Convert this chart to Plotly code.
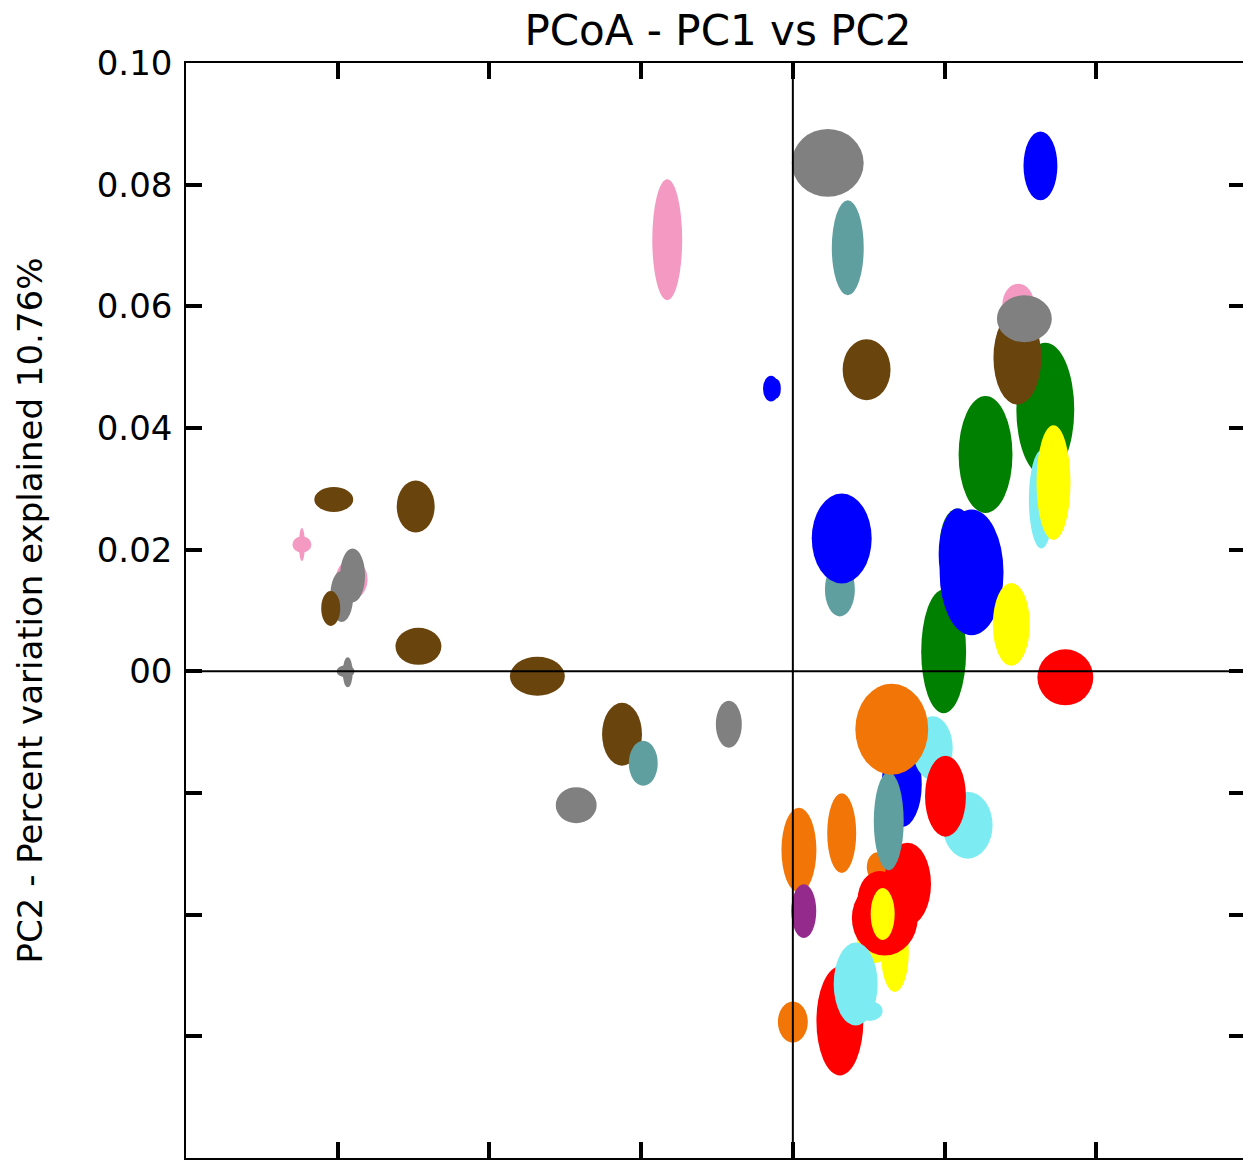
import plotly.graph_objects as go

# ---- data (PCoA ellipses: centre and half-widths in PC units) ----
groups = ["pink", "pink", "brown", "brown", "pink", "gray", "gray", "brown", "brown", "gray",
          "gray", "brown", "brown", "teal", "gray", "gray", "pink", "blue", "blue", "brown",
          "teal", "blue", "gray", "teal", "blue", "green", "pink", "brown", "gray", "green",
          "cyan", "yellow", "green", "green", "blue", "blue", "yellow", "red", "blue", "cyan",
          "yellow", "yellow", "orange", "red", "red", "teal", "orange", "cyan", "red", "orange",
          "orange", "purple", "red", "yellow", "red", "cyan", "cyan", "orange"]
pc1 = [-0.1618, -0.1618, -0.1513, -0.1243, -0.1454, -0.1451, -0.1487, -0.1523, -0.1234, -0.1467,
       -0.1474, -0.0842, -0.0563, -0.0493, -0.0211, -0.0714, -0.0414, -0.0072, -0.0056, 0.0243,
       0.0155, 0.0161, 0.0115, 0.0181, 0.0816, 0.0832, 0.0743, 0.0740, 0.0763, 0.0635,
       0.0819, 0.0859, 0.0543, 0.0497, 0.0543, 0.0589, 0.0720, 0.0898, 0.0359, 0.0461,
       0.0336, 0.0270, 0.0280, 0.0286, 0.0378, 0.0316, 0.0326, 0.0576, 0.0503, 0.0020,
       0.0161, 0.0036, 0.0303, 0.0296, 0.0155, 0.0207, 0.0253, 0.0000]
pc2 = [0.02085, 0.02085, 0.02824, 0.02709, 0.01511, 0.01576, 0.01232, 0.01034, 0.00411, -0.00016,
       0.0, -0.00082, -0.01034, -0.01511, -0.00870, -0.0220, 0.07094, 0.04647, 0.04647, 0.04959,
       0.01346, 0.02184, 0.08358, 0.06962, 0.08309, 0.04302, 0.06026, 0.05156, 0.05796, 0.03563,
       0.02824, 0.03103, 0.02085, 0.00328, 0.01921, 0.01626, 0.00772, -0.00099, -0.01856, -0.01264,
       -0.04614, -0.04401, -0.03218, -0.03744, -0.03498, -0.02463, -0.00952, -0.02529, -0.02053, -0.02939,
       -0.0266, -0.03941, -0.04056, -0.0399, -0.05747, -0.0514, -0.05583, -0.05764]
pc1_radius = [0.00313, 0.00099, 0.00641, 0.00625, 0.00526, 0.00411, 0.00378, 0.00313, 0.00757, 0.00164,
              0.00296, 0.00905, 0.00658, 0.00477, 0.00428, 0.00674, 0.00493, 0.00263, 0.00164, 0.00789,
              0.00493, 0.00987, 0.01184, 0.00526, 0.00559, 0.00954, 0.00526, 0.00789, 0.00905, 0.00888,
              0.00411, 0.00559, 0.00592, 0.0074, 0.00625, 0.01053, 0.00609, 0.00921, 0.00658, 0.00658,
              0.00461, 0.00592, 0.00362, 0.00724, 0.00773, 0.00493, 0.01201, 0.00822, 0.00674, 0.00576,
              0.00477, 0.00411, 0.01086, 0.00395, 0.00773, 0.00724, 0.00428, 0.00493]
pc2_radius = [0.00131, 0.00271, 0.00205, 0.00427, 0.00328, 0.00443, 0.00419, 0.00287, 0.00304, 0.00246,
              0.00099, 0.00320, 0.00517, 0.00369, 0.00386, 0.00296, 0.00993, 0.00213, 0.00164, 0.00501,
              0.00443, 0.00739, 0.00558, 0.0078, 0.00567, 0.0110, 0.00345, 0.00772, 0.00386, 0.00961,
              0.00805, 0.00944, 0.00591, 0.01018, 0.00755, 0.01034, 0.00681, 0.0046, 0.00706, 0.00525,
              0.00657, 0.00394, 0.00246, 0.0046, 0.00681, 0.00805, 0.00747, 0.0055, 0.00665, 0.00698,
              0.00657, 0.00443, 0.00616, 0.00427, 0.00895, 0.00681, 0.00164, 0.00337]

y_tickvals = [0.10, 0.08, 0.06, 0.04, 0.02, 0.0, -0.02, -0.04, -0.06, -0.08]
y_ticktext = ["0.10", "0.08", "0.06", "0.04", "0.02", "00", "", "", "", ""]
x_tickvals = [-0.20, -0.15, -0.10, -0.05, 0.0, 0.05, 0.10]

# ---- style ----
palette = {
    "pink": "#F49AC2", "brown": "#6A440D", "gray": "#808080", "blue": "#0000FF",
    "teal": "#5F9F9F", "green": "#008000", "yellow": "#FFFF00", "cyan": "#7DECF2",
    "red": "#FF0000", "orange": "#F27507", "purple": "#932A8C",
}
FONT = "DejaVu Sans"
W, H = 1247, 1160
ML, MT, MB, MR = 186, 63, 2, 0
PX_PER_UNIT = 3040

fig = go.Figure()
# invisible trace so that axes exist
fig.add_trace(go.Scatter(x=pc1, y=pc2, mode="markers", marker=dict(opacity=0),
                         hoverinfo="skip", showlegend=False))

shapes = []
for g, cx, cy, rx, ry in zip(groups, pc1, pc2, pc1_radius, pc2_radius):
    shapes.append(dict(type="circle", xref="x", yref="y",
                       x0=cx - rx, x1=cx + rx, y0=cy - ry, y1=cy + ry,
                       fillcolor=palette[g], line=dict(width=0), layer="above"))
# zero lines on top of the ellipses
shapes.append(dict(type="line", xref="x", yref="paper", x0=0, x1=0, y0=0, y1=1,
                   line=dict(color="black", width=2), layer="above"))
shapes.append(dict(type="line", xref="paper", yref="y", x0=0, x1=1, y0=0, y1=0,
                   line=dict(color="black", width=2), layer="above"))

fig.update_layout(
    width=W, height=H,
    margin=dict(l=ML, r=MR, t=MT, b=MB),
    paper_bgcolor="white", plot_bgcolor="white",
    showlegend=False,
    shapes=shapes,
    font=dict(family=FONT, color="black", size=34),
    title=dict(text="PCoA - PC1 vs PC2", x=718 / W, xanchor="center",
               y=1 - 30 / H, yanchor="middle", font=dict(family=FONT, size=42, color="black")),
    xaxis=dict(range=[-0.2, -0.2 + (W - ML - MR) / PX_PER_UNIT], tickvals=x_tickvals,
               showticklabels=False,
               ticks="inside", ticklen=16, tickwidth=4, tickcolor="black",
               showline=True, linecolor="black", linewidth=1.5, mirror="allticks",
               showgrid=False, zeroline=False),
    yaxis=dict(range=[-0.08, 0.10], tickvals=y_tickvals, ticktext=y_ticktext,
               ticks="inside", ticklen=16, tickwidth=4, tickcolor="black",
               showline=True, linecolor="black", linewidth=1.5, mirror="allticks",
               showgrid=False, zeroline=False, ticklabelstandoff=5,
               tickfont=dict(family=FONT, size=34, color="black"),
               title=dict(text="PC2 - Percent variation explained 10.76%", standoff=44,
                          font=dict(family=FONT, size=34, color="black"))),
)

fig.write_html(
    "out.html",
    config={"displayModeBar": False},
    post_script=(
        "document.body.style.margin='0px';"
        "document.body.style.overflow='hidden';"
        "document.documentElement.style.overflow='hidden';"
    ),
)
